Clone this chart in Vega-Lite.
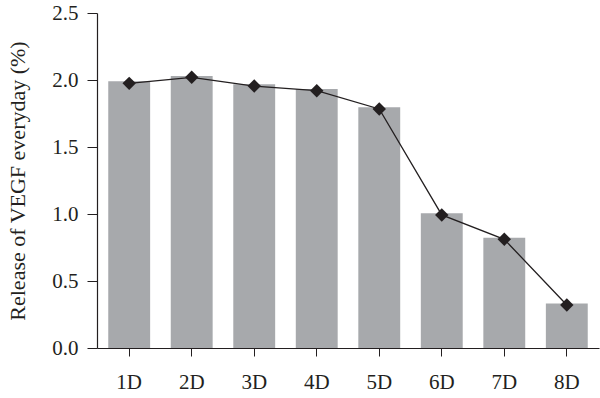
{
  "$schema": "https://vega.github.io/schema/vega-lite/v6.json",
  "width": 502,
  "height": 335,
  "autosize": {"type": "none"},
  "padding": {"left": 97, "top": 13, "right": 1, "bottom": 50},
  "background": "white",
  "config": {
    "view": {"stroke": null},
    "font": "Liberation Serif",
    "axis": {
      "labelFont": "Liberation Serif",
      "titleFont": "Liberation Serif",
      "labelFontSize": 21,
      "titleFontSize": 22,
      "labelColor": "#231f20",
      "titleColor": "#231f20",
      "domainColor": "#231f20",
      "tickColor": "#231f20",
      "grid": false,
      "titleFontWeight": "normal"
    }
  },
  "data": {
    "values": [
      {"day": "1D", "bar": 1.99, "line": 1.975},
      {"day": "2D", "bar": 2.03, "line": 2.02},
      {"day": "3D", "bar": 1.968, "line": 1.955},
      {"day": "4D", "bar": 1.933, "line": 1.92},
      {"day": "5D", "bar": 1.796, "line": 1.784},
      {"day": "6D", "bar": 1.005, "line": 0.993},
      {"day": "7D", "bar": 0.823, "line": 0.811},
      {"day": "8D", "bar": 0.333, "line": 0.321}
    ]
  },
  "encoding": {
    "x": {
      "field": "day",
      "type": "nominal",
      "sort": null,
      "scale": {"paddingInner": 0.33, "paddingOuter": 0.18},
      "axis": {"title": null, "labelAngle": 0, "tickSize": 8, "labelPadding": 15, "domainWidth": 1.2}
    }
  },
  "layer": [
    {
      "mark": {"type": "bar", "color": "#a7a9ac"},
      "encoding": {
        "y": {
          "field": "bar",
          "type": "quantitative",
          "scale": {"domain": [0, 2.5], "nice": false},
          "axis": {
            "title": "Release of VEGF everyday (%)",
            "values": [0, 0.5, 1, 1.5, 2, 2.5],
            "format": ".1f",
            "tickSize": 10,
            "labelPadding": 9,
            "titlePadding": 22,
            "domainWidth": 1.2
          }
        }
      }
    },
    {
      "mark": {"type": "line", "color": "#231f20", "strokeWidth": 1.3},
      "encoding": {"y": {"field": "line", "type": "quantitative"}}
    },
    {
      "mark": {"type": "point", "shape": "diamond", "filled": true, "color": "#231f20", "size": 180, "opacity": 1},
      "encoding": {"y": {"field": "line", "type": "quantitative"}}
    }
  ]
}
